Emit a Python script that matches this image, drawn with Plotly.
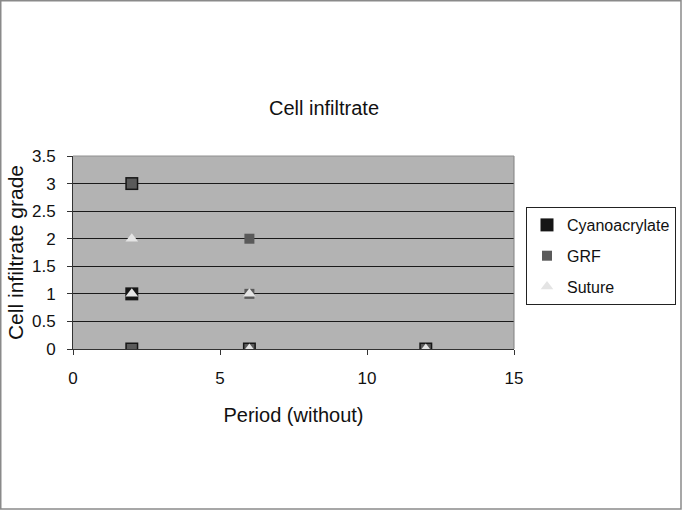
import plotly.graph_objects as go

# Data (period, grade)
cyano_x = [2, 2, 2, 6, 12]
cyano_y = [3, 1, 0, 0, 0]
grf_x = [2, 2, 6, 6, 6, 12]
grf_y = [3, 0, 2, 1, 0, 0]
suture_x = [2, 2, 6, 6, 12]
suture_y = [2, 1, 1, 0, 0]

x_ticks = [0, 5, 10, 15]
y_ticks = [0, 0.5, 1, 1.5, 2, 2.5, 3, 3.5]

FONT = "Liberation Sans, Arial, sans-serif"

W, H = 682, 510
L, R, T, B = 73, 168, 156, 161
PW, PH = W - L - R, H - T - B

fig = go.Figure()
fig.add_trace(go.Scatter(
    x=cyano_x, y=cyano_y, mode="markers", name="Cyanoacrylate",
    legendgroup="a",
    marker=dict(symbol="square", size=13, color="#161616",
                line=dict(width=0)),
))
fig.add_trace(go.Scatter(
    x=grf_x, y=grf_y, mode="markers", name="GRF", legendgroup="b",
    marker=dict(symbol="square", size=10, color="#5a5a5a",
                line=dict(width=0)),
))
fig.add_trace(go.Scatter(
    x=suture_x, y=suture_y, mode="markers", name="Suture", legendgroup="c",
    marker=dict(symbol="triangle-up", size=11, color="#e4e4e4",
                line=dict(width=0)),
))

fig.update_layout(
    width=W, height=H,
    margin=dict(l=L, r=R, t=T, b=B, autoexpand=False),
    paper_bgcolor="white",
    plot_bgcolor="#b3b3b3",
    font=dict(family=FONT, size=17, color="#111"),
    title=dict(text="Cell infiltrate", x=324 / W, xanchor="center",
               y=1 - 108 / H, yanchor="middle",
               font=dict(size=20, family=FONT, color="#111")),
    showlegend=True,
    legend=dict(
        x=(526 - L) / PW, xanchor="left", y=(H - B - 207) / PH, yanchor="top",
        bordercolor="#222", borderwidth=1, bgcolor="white",
        font=dict(size=16, family=FONT, color="#111"),
        traceorder="grouped", tracegroupgap=7,
        itemwidth=30,
    ),
    xaxis=dict(
        range=[0, 15], tickvals=x_ticks, ticktext=[str(v) for v in x_ticks],
        showgrid=False, zeroline=False, automargin=False,
        ticks="outside", ticklen=5, tickcolor="#333",
        showline=True, linecolor="#333", linewidth=1,
        ticklabelstandoff=9,
        title=dict(text="Period (without)", font=dict(size=20, family=FONT),
                   standoff=20),
        tickfont=dict(size=17),
    ),
    yaxis=dict(
        range=[0, 3.5], tickvals=y_ticks,
        ticktext=["0", "0.5", "1", "1.5", "2", "2.5", "3", "3.5"],
        showgrid=True, gridcolor="#1a1a1a", gridwidth=1.2,
        zeroline=False, automargin=False,
        ticks="outside", ticklen=5, tickcolor="#333",
        showline=True, linecolor="#333", linewidth=1,
        ticklabelstandoff=8,
        title=dict(text="Cell infiltrate grade",
                   font=dict(size=21, family=FONT), standoff=2),
        tickfont=dict(size=17),
    ),
    shapes=[
        # chart outer border
        dict(type="rect", xref="paper", yref="paper",
             x0=-(L - 0.75) / PW, x1=1 + (R - 1) / PW,
             y0=-(B - 1) / PH, y1=1 + (T - 0.75) / PH,
             line=dict(color="#8a8a8a", width=1.5), fillcolor="rgba(0,0,0,0)",
             layer="below"),
        # plot area right/top edge
        dict(type="line", xref="paper", yref="paper", x0=1, x1=1, y0=0, y1=1,
             line=dict(color="#808080", width=1)),
        dict(type="line", xref="paper", yref="paper", x0=0, x1=1, y0=1, y1=1,
             line=dict(color="#909090", width=1)),
    ],
)

fig.write_html(
    "out.html",
    config={"displayModeBar": False},
    post_script="document.body.style.margin='0';document.body.style.overflow='hidden';",
)
